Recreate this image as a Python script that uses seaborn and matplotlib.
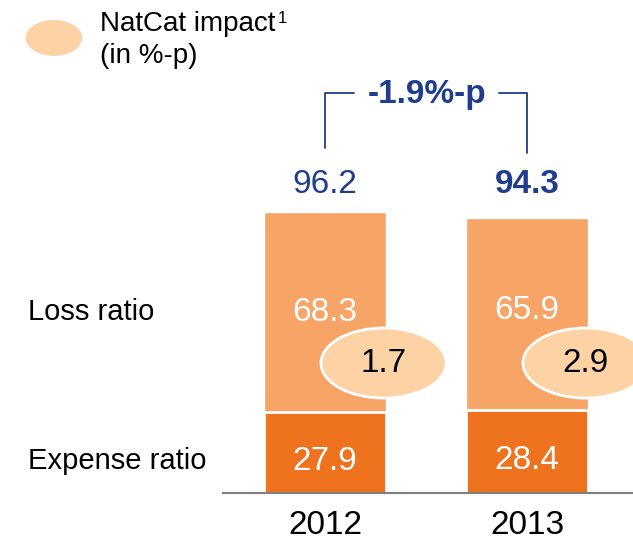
import matplotlib
matplotlib.use("Agg")
import matplotlib.pyplot as plt
from matplotlib.patches import Ellipse
import seaborn as sns

# Data
years = ["2012", "2013"]
expense_ratio = [27.9, 28.4]
loss_ratio = [68.3, 65.9]
combined_ratio = [96.2, 94.3]
natcat_impact = [1.7, 2.9]
change_label = "-1.9%-p"

light_orange = "#F7A467"
dark_orange = "#EF721F"
pale_orange = "#FDD3A5"
blue = "#1F3D8C"

sns.set_style("white")
plt.rcParams["font.family"] = ["Liberation Sans", "DejaVu Sans"]
plt.rcParams["text.color"] = "black"
plt.rcParams["xtick.color"] = "black"

fig = plt.figure(figsize=(6.33, 5.4), dpi=100)
ax = fig.add_axes([0, 0.087, 1, 0.913])

# Combined (light) bars first, expense bars on top
sns.barplot(x=years, y=combined_ratio, color=light_orange, width=0.6,
            saturation=1, ax=ax, zorder=1)
sns.barplot(x=years, y=expense_ratio, color=dark_orange, width=0.6,
            saturation=1, ax=ax, edgecolor="white", linewidth=2, zorder=2)

ax.set_xlim(-1.609, 1.525)
ax.set_ylim(0, 168.8)

label_y = max(combined_ratio) + 9.6
for i in range(len(years)):
    ax.text(i, expense_ratio[i] / 2 - 3, f"{expense_ratio[i]:.1f}", color="white",
            ha="center", va="center", fontsize=24, zorder=3)
    ax.text(i, expense_ratio[i] + 34, f"{loss_ratio[i]:.1f}", color="white",
            ha="center", va="center", fontsize=24, zorder=3)
    ax.text(i, label_y, f"{combined_ratio[i]:.1f}", color=blue,
            ha="center", va="center", fontsize=24,
            fontweight="bold" if i == 1 else "normal")
    # NatCat ellipse
    e = Ellipse((i + 0.29, 44.5), 0.62, 24, facecolor=pale_orange,
                edgecolor="white", linewidth=2, zorder=4)
    ax.add_patch(e)
    ax.text(i + 0.29, 44.5, f"{natcat_impact[i]:.1f}", color="black",
            ha="center", va="center", fontsize=24, zorder=5)

# Bracket showing change
yb = 137
ax.plot([0, 0, 0.145], [combined_ratio[0] + 22, yb, yb], color=blue, lw=1.3)
ax.plot([0.86, 1, 1], [yb, yb, combined_ratio[1] + 22], color=blue, lw=1.3)
ax.text(0.507, yb - 0.5, change_label, color=blue, fontsize=24, fontweight="bold",
        ha="center", va="center")

# Row labels
ax.text(-1.47, 62, "Loss ratio", fontsize=21, ha="left", va="center")
ax.text(-1.47, 11, "Expense ratio", fontsize=21, ha="left", va="center")

# Legend
ax.add_patch(Ellipse((-1.342, 155.8), 0.28, 12.3, facecolor=pale_orange,
                     edgecolor="none"))
t1 = ax.text(-1.114, 158.2, "NatCat impact", fontsize=20, ha="left", va="baseline")
ax.annotate("1", xy=(1, 1), xycoords=t1, xytext=(1.5, 0), textcoords="offset points",
            fontsize=12, ha="left", va="top")
ax.text(-1.114, 147.3, "(in %-p)", fontsize=20, ha="left", va="baseline")

# Axes styling
sns.despine(ax=ax, left=True, top=True, right=True)
ax.spines["bottom"].set_bounds(-0.505, 1.525)
ax.spines["bottom"].set_color("#7F7F7F")
ax.spines["bottom"].set_linewidth(1.5)
ax.set_yticks([])
ax.set_xlabel("")
ax.set_ylabel("")
ax.tick_params(axis="x", length=0, labelsize=24, pad=12, labelcolor="black")

fig.savefig("out.png", dpi=100)
